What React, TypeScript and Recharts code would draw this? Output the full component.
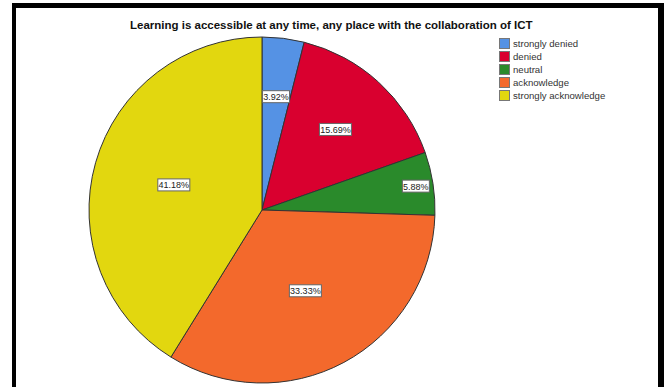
import { PieChart, Pie, Cell } from 'recharts'

const categories = ['strongly denied', 'denied', 'neutral', 'acknowledge', 'strongly acknowledge']
const counts = [2, 8, 3, 17, 21]
const percentLabels = ['3.92%', '15.69%', '5.88%', '33.33%', '41.18%']
const colors = ['#5592e4', '#d9002f', '#2a8a2b', '#f3692c', '#e2d70f']
// how far out (fraction of radius) each label sits
const labelRadius = [0.66, 0.63, 0.9, 0.53, 0.53]

const data = categories.map((name, i) => ({ name, value: counts[i], label: percentLabels[i] }))

const RAD = Math.PI / 180

function renderLabel(props: any) {
  const { cx, cy, midAngle, outerRadius, index } = props
  const r = outerRadius * labelRadius[index]
  const x = cx + r * Math.cos(-midAngle * RAD)
  const y = cy + r * Math.sin(-midAngle * RAD)
  const txt = percentLabels[index]
  const w = txt.length * 5 + 2
  return (
    <g>
      <rect x={x - w / 2} y={y - 6} width={w} height={12} fill="#fff" stroke="#666" strokeWidth={1} />
      <text x={x} y={y + 3.5} textAnchor="middle" fontSize={9} fill="#222" fontFamily="Liberation Sans, Arial, sans-serif">{txt}</text>
    </g>
  )
}

export default function App() {
  return (
    <div style={{ position: 'absolute', left: 0, top: 0, width: 666, height: 387, background: '#fff', overflow: 'hidden' }}>
      <div style={{ position: 'absolute', left: 12, top: 3, width: 652, height: 5, background: '#000' }} />
      <div style={{ position: 'absolute', left: 12, top: 3, width: 4, height: 384, background: '#000' }} />
      <div style={{ position: 'absolute', left: 658, top: 3, width: 6, height: 384, background: '#000' }} />
      <div style={{ position: 'absolute', left: 130, top: 19, whiteSpace: 'nowrap', fontFamily: 'Liberation Sans, Arial, sans-serif', fontWeight: 'bold', fontSize: 11.5, color: '#111' }}>
        Learning is accessible at any time, any place with the collaboration of ICT
      </div>
      <div style={{ position: 'absolute', left: 499, top: 37, fontFamily: 'Liberation Sans, Arial, sans-serif', fontSize: 9.6, color: '#333' }}>
        {categories.map((c, i) => (
          <div key={c} style={{ display: 'flex', alignItems: 'center', height: 13 }}>
            <div style={{ width: 9, height: 9, background: colors[i], border: '1px solid #777', marginRight: 3 }} />
            <span>{c}</span>
          </div>
        ))}
      </div>
      <div style={{ position: 'absolute', left: 0, top: 0 }}>
        <PieChart width={666} height={387} margin={{ top: 0, right: 0, bottom: 0, left: 0 }}>
          <Pie
            data={data}
            dataKey="value"
            nameKey="name"
            cx={262}
            cy={210}
            outerRadius={173}
            startAngle={90}
            endAngle={-270}
            stroke="#333"
            strokeWidth={1}
            label={renderLabel}
            labelLine={false}
            isAnimationActive={false}
          >
            {data.map((d, i) => (
              <Cell key={d.name} fill={colors[i]} />
            ))}
          </Pie>
        </PieChart>
      </div>
    </div>
  )
}
